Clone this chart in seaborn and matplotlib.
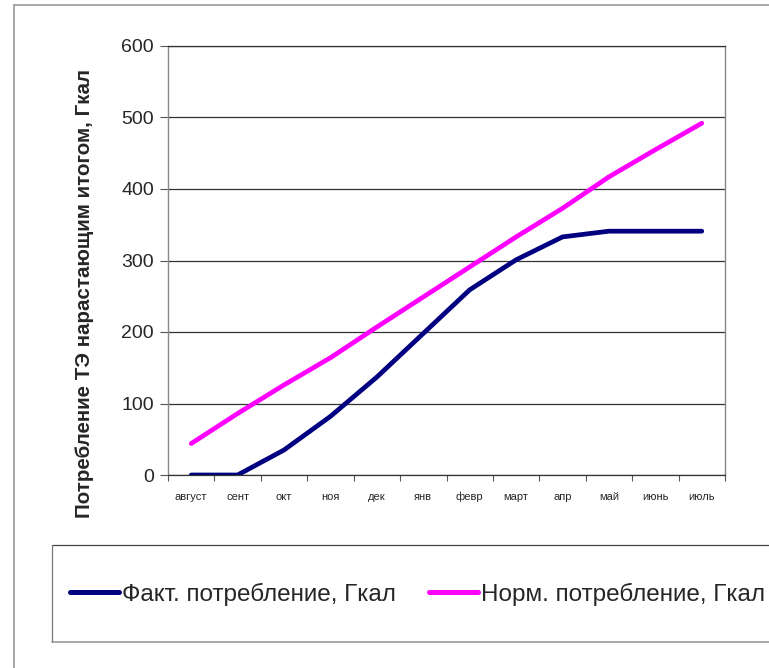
import matplotlib
matplotlib.use("Agg")
import matplotlib.pyplot as plt
import seaborn as sns
import pandas as pd
import numpy as np
from matplotlib.lines import Line2D
from matplotlib.ticker import FixedLocator

months = ["август", "сент", "окт", "ноя", "дек", "янв", "февр", "март", "апр", "май", "июнь", "июль"]
fact = [0, 0, 35, 82, 137, 198, 259, 301, 333, 341, 341, 341]
norm = [44, 86, 126, 164, 207, 249, 291, 333, 373, 417, 455, 492]
series_names = ["Факт. потребление, Гкал", "Норм. потребление, Гкал"]
y_ticks = [0, 100, 200, 300, 400, 500, 600]
y_label = "Потребление ТЭ нарастающим итогом, Гкал"

sns.set_style("white")
plt.rcParams['font.family'] = ['Liberation Sans', 'DejaVu Sans']

W, H = 769, 668
fig = plt.figure(figsize=(W / 100, H / 100), dpi=100)

def fx(px):
    return px / W

def fy(py):
    return 1 - py / H

ax = fig.add_axes([fx(168), fy(475), fx(725) - fx(168), fy(46) - fy(475)])

df = pd.DataFrame({
    "pos": list(range(len(months))) * 2,
    "value": fact + norm,
    "series": [series_names[0]] * len(months) + [series_names[1]] * len(months),
})
palette = {series_names[0]: "#000080", series_names[1]: "#FF00FF"}
sns.lineplot(data=df, x="pos", y="value", hue="series", palette=palette,
             linewidth=3.4, ax=ax, legend=False, solid_capstyle="round")

ax.set_xlim(-0.5, len(months) - 0.5)
ax.set_ylim(0, 600)
ax.set_yticks(y_ticks)
ax.set_yticklabels([str(v) for v in y_ticks], fontsize=14)
ax.set_xticks(range(len(months)))
ax.set_xticklabels(months, fontsize=8)
ax.xaxis.set_minor_locator(FixedLocator(np.arange(-0.5, len(months), 1.0)))
ax.tick_params(axis="x", which="major", length=0, pad=12)
ax.tick_params(axis="x", which="minor", length=4, width=0.8, color="#555555", direction="out", bottom=True)
ax.tick_params(axis="y", which="major", length=6, width=0.8, color="#555555", direction="out", left=True, pad=4)
ax.set_xlabel("")
ax.set_ylabel("")
ax.grid(axis="y", color="#333333", linewidth=0.9)
ax.grid(axis="x", visible=False)
ax.set_axisbelow(True)
for side in ["left", "right"]:
    ax.spines[side].set_color("#888888")
    ax.spines[side].set_linewidth(1.0)
ax.spines["top"].set_color("#333333")
ax.spines["bottom"].set_color("#333333")
ax.spines["top"].set_linewidth(0.9)
ax.spines["bottom"].set_linewidth(0.9)

fig.text(fx(85), fy(293), y_label, rotation=90, ha="center", va="center",
         fontsize=14.8, fontweight="bold")

# outer chart border
fig.add_artist(Line2D([fx(14), fx(14)], [fy(5), 0], color="#999999", linewidth=1.2))
fig.add_artist(Line2D([fx(14), 1], [fy(5), fy(5)], color="#999999", linewidth=1.2))

# legend box
fig.add_artist(Line2D([fx(52), 1], [fy(545), fy(545)], color="#444444", linewidth=0.9))
fig.add_artist(Line2D([fx(52), fx(52)], [fy(545), fy(642)], color="#777777", linewidth=0.9))
fig.add_artist(Line2D([fx(52), 1], [fy(642), fy(642)], color="#999999", linewidth=1.2))

handles = [Line2D([], [], color=palette[n], linewidth=3.6, solid_capstyle="round") for n in series_names]
fig.legend(handles, series_names, loc="center left", bbox_to_anchor=(fx(70), fy(594)),
           ncol=2, frameon=False, fontsize=17.5, handlelength=2.0, handletextpad=0.12,
           columnspacing=1.4, borderaxespad=0, borderpad=0)

fig.savefig("out.png", dpi=100)
